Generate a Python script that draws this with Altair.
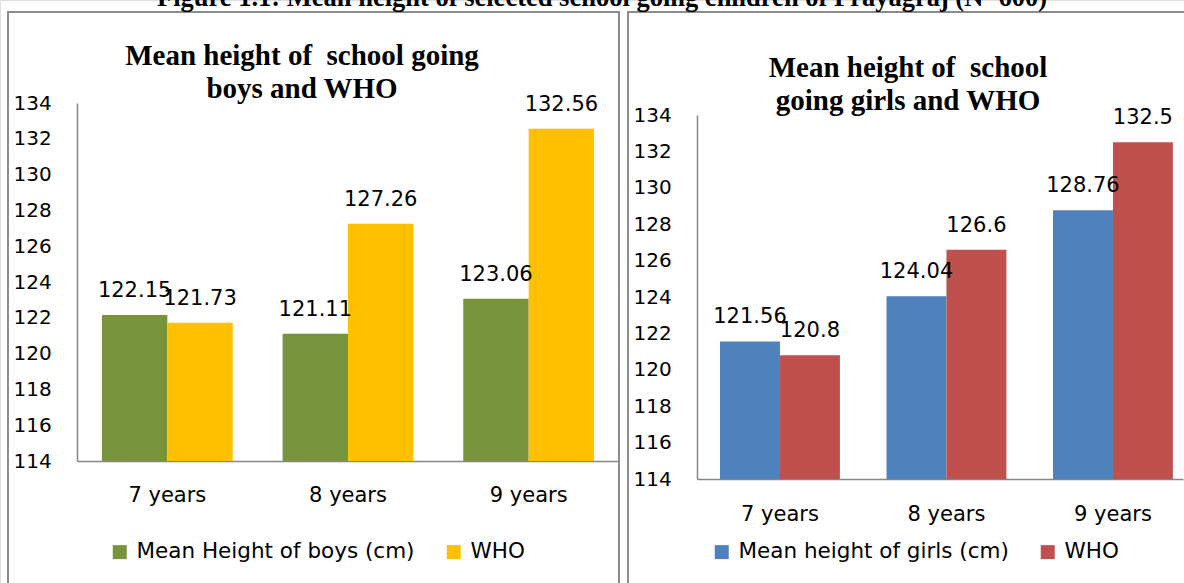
import altair as alt
import pandas as pd

# ---------------- data ----------------
ages = ["7 years", "8 years", "9 years"]
boys_mean = [122.15, 121.11, 123.06]
boys_who = [121.73, 127.26, 132.56]
girls_mean = [121.56, 124.04, 128.76]
girls_who = [120.8, 126.6, 132.5]
boys_series = ["Mean Height of boys (cm)", "WHO"]
girls_series = ["Mean height of girls (cm)", "WHO"]
boys_colors = ["#77933C", "#FFC000"]
girls_colors = ["#4F81BD", "#C0504D"]
y_ticks = [114, 116, 118, 120, 122, 124, 126, 128, 130, 132, 134]
fig_title = "Figure 1.1: Mean height of selected school going children of Prayagraj (N=600)"
left_title = ["Mean height of \u00a0school going", "boys and WHO"]
right_title = ["Mean height of \u00a0school", "going girls and WHO"]

SANS = "DejaVu Sans"
SERIF = "Liberation Serif"
GRAY = "#868686"
BOX = "#8c8c8c"


def frame(series, a, b):
    rows = []
    for i, age in enumerate(ages):
        rows.append({"age": age, "series": series[0], "value": a[i], "label": str(a[i])})
        rows.append({"age": age, "series": series[1], "value": b[i], "label": str(b[i])})
    return pd.DataFrame(rows)


def panel(df, series, colors, xr, yr, pin, pout, align, y_off, x_off, xlab_pad, legx, legy):
    def xs():
        return alt.Scale(range=xr, paddingInner=pin, paddingOuter=pout, align=align)

    def ys():
        return alt.Scale(domain=[114, 134], range=yr, nice=False, zero=False)

    def xo():
        return alt.Scale(domain=series)

    bars = alt.Chart(df).mark_bar().encode(
        x=alt.X("age:N", sort=ages, scale=xs(),
                axis=alt.Axis(orient="bottom", offset=x_off, title=None, labelAngle=0,
                              ticks=False, grid=False, domainColor=GRAY,
                              domainWidth=1.5, labelFont=SANS, labelFontSize=21,
                              labelColor="black", labelPadding=xlab_pad,
                              labelBaseline="middle")),
        xOffset=alt.XOffset("series:N", scale=xo(), sort=series),
        y=alt.Y("value:Q", scale=ys(),
                axis=alt.Axis(orient="left", offset=y_off, values=y_ticks, title=None,
                              grid=False, ticks=False, domainColor=GRAY,
                              domainWidth=1.5, labelFont=SANS, labelFontSize=20,
                              labelColor="black", labelAlign="left", labelPadding=64,
                              labelBaseline="middle", labelOverlap=False)),
        y2=alt.datum(114),
        color=alt.Color("series:N", scale=alt.Scale(domain=series, range=colors),
                        legend=alt.Legend(orient="none", legendX=legx, legendY=legy,
                                          direction="horizontal", title=None,
                                          symbolType="square", symbolSize=196,
                                          symbolStrokeWidth=0, labelFont=SANS,
                                          labelFontSize=21.5, labelColor="black",
                                          labelLimit=500, columnPadding=28,
                                          labelOffset=6, padding=0)),
    )
    labels = alt.Chart(df).mark_text(font=SANS, fontSize=21, color="black",
                                     baseline="alphabetic", dy=-18).encode(
        x=alt.X("age:N", sort=ages, scale=xs(), axis=None),
        xOffset=alt.XOffset("series:N", scale=xo(), sort=series),
        y=alt.Y("value:Q", scale=ys(), axis=None),
        text="label:N",
    )
    return [bars, labels]


one = pd.DataFrame({"k": [0]})


def box(x0, x1):
    return alt.Chart(one).mark_rect(fillOpacity=0, stroke=BOX, strokeWidth=2).encode(
        x=alt.value(x0), x2=alt.value(x1), y=alt.value(12), y2=alt.value(620))


def heading(lines, cx, y, size=29):
    return alt.Chart(one).mark_text(text=lines, font=SERIF, fontWeight="bold", fontSize=size,
                                    lineHeight=33, baseline="alphabetic", align="center",
                                    color="black").encode(x=alt.value(cx), y=alt.value(y))


left = panel(frame(boys_series, boys_mean, boys_who), boys_series, boys_colors,
             [77, 619], [461, 103], 0.276, 0.138, 0.5, -77, -122, 34, 109, 541)
right = panel(frame(girls_series, girls_mean, girls_who), girls_series, girls_colors,
              [697, 1183], [479, 115], 0.28, 0.0995, 0.695, -697, -104, 35, 711, 541)

chart = alt.layer(
    box(8, 619), box(628, 1210),
    *left, *right,
    heading(left_title, 302, 65), heading(right_title, 908, 77),
    heading([fig_title], 602, 6, 26.5),
).resolve_scale(
    x="independent", y="independent", color="independent", xOffset="independent"
).resolve_axis(
    x="independent", y="independent"
).resolve_legend(
    color="independent"
).properties(
    width=1184, height=583, padding=0,
    autosize=alt.AutoSizeParams(type="none"),
).configure_view(strokeWidth=0).configure(background="white")

chart.save("out.html", embed_options={"renderer": "svg", "actions": False})
